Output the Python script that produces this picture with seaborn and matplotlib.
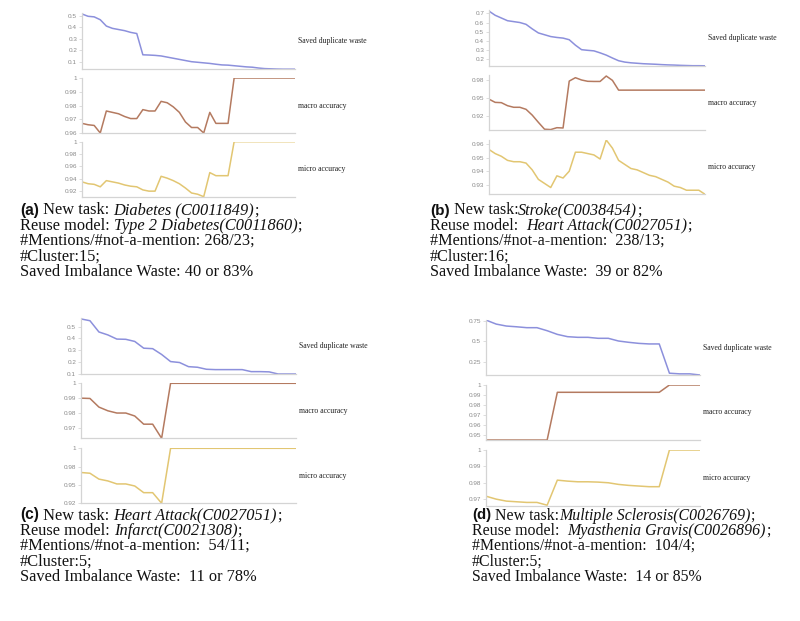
"""Cluster reuse curves: saved duplicate waste vs. macro / micro accuracy"""

import numpy as np
import pandas as pd
import matplotlib
matplotlib.use('Agg')
import matplotlib.pyplot as plt
import seaborn as sns

sns.set_style('white')
plt.rcParams['font.family'] = ['Liberation Serif', 'DejaVu Serif']

# ---- values ---------------------------------------------------------------
# (a) Diabetes
waste_a = [0.515, 0.495, 0.49, 0.465, 0.41, 0.39, 0.38, 0.37, 0.355, 0.345,
           0.16, 0.158, 0.155, 0.15, 0.14, 0.13, 0.12, 0.11, 0.10, 0.095,
           0.09, 0.085, 0.078, 0.072, 0.07, 0.065, 0.06, 0.055, 0.052, 0.045,
           0.04, 0.038, 0.036, 0.035, 0.035, 0.035]
macro_a = [0.967, 0.966, 0.9655, 0.960, 0.976, 0.975, 0.974, 0.972, 0.9705, 0.9705,
           0.977, 0.976, 0.976, 0.983, 0.982, 0.979, 0.975, 0.968, 0.964, 0.964,
           0.960, 0.975, 0.967, 0.967, 0.967, 1.0, 1.0, 1.0, 1.0, 1.0,
           1.0, 1.0, 1.0, 1.0, 1.0, 1.0]
micro_a = [0.935, 0.932, 0.931, 0.927, 0.937, 0.935, 0.933, 0.930, 0.928, 0.927,
           0.922, 0.920, 0.920, 0.944, 0.941, 0.937, 0.932, 0.925, 0.917, 0.915,
           0.911, 0.950, 0.945, 0.945, 0.945, 1.0, 1.0, 1.0, 1.0, 1.0,
           1.0, 1.0, 1.0, 1.0, 1.0, 1.0]

# (b) Stroke
waste_b = [0.726, 0.68, 0.65, 0.62, 0.61, 0.60, 0.58, 0.53, 0.485, 0.465,
           0.445, 0.435, 0.428, 0.41, 0.35, 0.30, 0.293, 0.287, 0.265, 0.24,
           0.208, 0.178, 0.163, 0.155, 0.15, 0.145, 0.142, 0.139, 0.135, 0.132,
           0.13, 0.127, 0.125, 0.123, 0.123, 0.122]
macro_b = [0.948, 0.9436, 0.9432, 0.939, 0.9368, 0.9368, 0.934, 0.926, 0.916, 0.9065,
           0.906, 0.9086, 0.9082, 0.973, 0.9777, 0.9745, 0.9727, 0.9725, 0.9725, 0.980,
           0.974, 0.9605, 0.9605, 0.9605, 0.9605, 0.9605, 0.9605, 0.9605, 0.9605, 0.9605,
           0.9605, 0.9605, 0.9605, 0.9605, 0.9605, 0.9605]
micro_b = [0.956, 0.953, 0.951, 0.948, 0.947, 0.947, 0.946, 0.941, 0.934, 0.931,
           0.928, 0.9366, 0.935, 0.940, 0.954, 0.954, 0.953, 0.952, 0.949, 0.963,
           0.957, 0.948, 0.945, 0.942, 0.941, 0.939, 0.937, 0.936, 0.934, 0.932,
           0.929, 0.928, 0.926, 0.926, 0.926, 0.923]

# (c) Heart Attack
waste_c = [0.565, 0.55, 0.455, 0.43, 0.395, 0.393, 0.375, 0.318, 0.314, 0.265,
           0.205, 0.197, 0.162, 0.157, 0.14, 0.137, 0.137, 0.137, 0.137, 0.12,
           0.12, 0.118, 0.10, 0.10, 0.10]
macro_c = [0.990, 0.9898, 0.984, 0.9815, 0.980, 0.980, 0.978, 0.9725, 0.9725, 0.963,
           1.0, 1.0, 1.0, 1.0, 1.0, 1.0, 1.0, 1.0, 1.0, 1.0,
           1.0, 1.0, 1.0, 1.0, 1.0]
micro_c = [0.967, 0.966, 0.958, 0.9555, 0.9514, 0.9514, 0.9486, 0.9395, 0.9395, 0.925,
           1.0, 1.0, 1.0, 1.0, 1.0, 1.0, 1.0, 1.0, 1.0, 1.0,
           1.0, 1.0, 1.0, 1.0, 1.0]

# (d) Multiple Sclerosis
waste_d = [0.762, 0.713, 0.689, 0.68, 0.669, 0.669, 0.632, 0.587, 0.559, 0.551,
           0.551, 0.539, 0.539, 0.506, 0.49, 0.477, 0.47, 0.47, 0.112, 0.104,
           0.104, 0.09]
macro_d = [0.945, 0.945, 0.945, 0.945, 0.945, 0.945, 0.945, 0.9927, 0.9927, 0.9927,
           0.9927, 0.9927, 0.9927, 0.9927, 0.9927, 0.9927, 0.9927, 0.9927, 1.0, 1.0,
           1.0, 1.0]
micro_d = [0.9718, 0.970, 0.9688, 0.9684, 0.968, 0.968, 0.9663, 0.9816, 0.981, 0.9806,
           0.9806, 0.9804, 0.980, 0.979, 0.9784, 0.978, 0.9776, 0.9776, 1.0, 1.0,
           1.0, 1.0]

series_names = ['Saved duplicate waste', 'macro accuracy', 'micro accuracy']

# y ticks as printed on each small axis
ticks_a = [[0.1, 0.2, 0.3, 0.4, 0.5], [0.96, 0.97, 0.98, 0.99, 1.0], [0.92, 0.94, 0.96, 0.98, 1.0]]
labels_a = [['0.1', '0.2', '0.3', '0.4', '0.5'], ['0.96', '0.97', '0.98', '0.99', '1'],
            ['0.92', '0.94', '0.96', '0.98', '1']]
ticks_b = [[0.2, 0.3, 0.4, 0.5, 0.6, 0.7], [0.925, 0.95, 0.975], [0.93, 0.94, 0.95, 0.96]]
labels_b = [['0.2', '0.3', '0.4', '0.5', '0.6', '0.7'], ['0.92', '0.95', '0.98'],
            ['0.93', '0.94', '0.95', '0.96']]
ticks_c = [[0.1, 0.2, 0.3, 0.4, 0.5], [0.97, 0.98, 0.99, 1.0], [0.925, 0.95, 0.975, 1.0]]
labels_c = [['0.1', '0.2', '0.3', '0.4', '0.5'], ['0.97', '0.98', '0.99', '1'],
            ['0.92', '0.95', '0.98', '1']]
ticks_d = [[0.25, 0.5, 0.75], [0.95, 0.96, 0.97, 0.98, 0.99, 1.0], [0.97, 0.98, 0.99, 1.0]]
labels_d = [['0.25', '0.5', '0.75'], ['0.95', '0.96', '0.97', '0.98', '0.99', '1'],
            ['0.97', '0.98', '0.99', '1']]

# caption pieces: (text, style) with b = bold sans, r = roman, i = italic
captions = {
    'a': [[('(a)', 'b'), (' New task: ', 'r'), ('Diabetes (C0011849)', 'i'), (';', 'r')],
          [('Reuse model: ', 'r'), ('Type 2 Diabetes(C0011860)', 'i'), (';', 'r')],
          [('#Mentions/#not-a-mention: 268/23;', 'r')],
          [('#Cluster:15;', 'r')],
          [('Saved Imbalance Waste: 40 or 83%', 'r')]],
    'b': [[('(b)', 'b'), (' New task:', 'r'), ('Stroke(C0038454)', 'i'), (';', 'r')],
          [('Reuse model:  ', 'r'), ('Heart Attack(C0027051)', 'i'), (';', 'r')],
          [('#Mentions/#not-a-mention:  238/13;', 'r')],
          [('#Cluster:16;', 'r')],
          [('Saved Imbalance Waste:  39 or 82%', 'r')]],
    'c': [[('(c)', 'b'), (' New task: ', 'r'), ('Heart Attack(C0027051)', 'i'), (';', 'r')],
          [('Reuse model: ', 'r'), ('Infarct(C0021308)', 'i'), (';', 'r')],
          [('#Mentions/#not-a-mention:  54/11;', 'r')],
          [('#Cluster:5;', 'r')],
          [('Saved Imbalance Waste:  11 or 78%', 'r')]],
    'd': [[('(d)', 'b'), (' New task:', 'r'), ('Multiple Sclerosis(C0026769)', 'i'), (';', 'r')],
          [('Reuse model:  ', 'r'), ('Myasthenia Gravis(C0026896)', 'i'), (';', 'r')],
          [('#Mentions/#not-a-mention:  104/4;', 'r')],
          [('#Cluster:5;', 'r')],
          [('Saved Imbalance Waste:  14 or 85%', 'r')]],
}

colors = ['#8c90dc', '#b47a60', '#e2c672']

W, H = 800, 621
fig = plt.figure(figsize=(W / 100, H / 100), dpi=100)
renderer = fig.canvas.get_renderer()


def cap_styles(size):
    return {
        'b': dict(family=['Liberation Sans', 'DejaVu Sans'], weight='bold', fontsize=size * 0.95),
        'r': dict(family=['Liberation Serif', 'DejaVu Serif'], fontsize=size),
        'i': dict(family=['Liberation Serif', 'DejaVu Serif'], style='italic', fontsize=size),
    }


def px_axes(left, top, right, bottom):
    return fig.add_axes([left / W, 1 - bottom / H, (right - left) / W, (bottom - top) / H])


def text_width(s, **kw):
    # pad with x on both sides so leading/trailing blanks are counted
    t = fig.text(0, 0, 'x' + s + 'x', **kw)
    w1 = t.get_window_extent(renderer).width
    t.remove()
    t = fig.text(0, 0, 'xx', **kw)
    w2 = t.get_window_extent(renderer).width
    t.remove()
    return w1 - w2


def draw_panel(series, boxes, ylims, ticks, labels):
    for name, vals, box, ylim, tk, lb, c in zip(series_names, series, boxes, ylims,
                                                ticks, labels, colors):
        ax = px_axes(*box)
        df = pd.DataFrame({'step': np.arange(len(vals)), 'value': vals})
        sns.lineplot(data=df, x='step', y='value', ax=ax, color=c, lw=1.1)
        ax.set_xlim(0, len(vals) - 1)
        ax.set_ylim(*ylim)
        ax.set_xticks([])
        ax.set_yticks(tk)
        ax.set_yticklabels(lb, family='Liberation Sans', fontsize=4.6, color='#8a8a8a')
        ax.tick_params(axis='y', length=2, width=0.5, color='#d0d0d0', pad=1.5, left=True)
        ax.set_xlabel('')
        ax.set_ylabel('')
        sns.despine(ax=ax)
        for side in ('left', 'bottom'):
            ax.spines[side].set_color('#d4d4d4')
            ax.spines[side].set_linewidth(0.9)
        ax.text(1.015, 0.5, name, transform=ax.transAxes, ha='left', va='center',
                fontsize=5.6, color='#222222')


draw_panel([waste_a, macro_a, micro_a],
           [(82, 13.3, 295, 69), (82, 78, 295, 133), (82, 141.7, 295, 196.7)],
           [(0.0365, 0.521), (0.96, 1.0), (0.911, 1.0)], ticks_a, labels_a)
draw_panel([waste_b, macro_b, micro_b],
           [(489, 10.3, 705, 65.8), (489, 75.3, 705, 130.3), (489, 140, 705, 194.3)],
           [(0.122, 0.735), (0.905, 0.981), (0.923, 0.963)], ticks_b, labels_b)
draw_panel([waste_c, macro_c, micro_c],
           [(81, 318, 296, 374), (81, 383.3, 296, 438.3), (81, 448.3, 296, 503.3)],
           [(0.1, 0.573), (0.963, 1.0), (0.925, 1.0)], ticks_c, labels_c)
draw_panel([waste_d, macro_d, micro_d],
           [(486, 320, 700, 375), (486, 385, 700, 440), (486, 450, 700, 505.7)],
           [(0.09, 0.763), (0.945, 1.0), (0.966, 1.0)], ticks_d, labels_d)

# captions under each panel, piece by piece on a common baseline
for key, (x0, y0), size in zip('abcd', [(20, 214.5), (430, 214.5), (20, 519.5), (472, 519.5)],
                               [11.8, 11.6, 11.8, 11.4]):
    styles = cap_styles(size)
    for i, line in enumerate(captions[key]):
        x = x0
        y = y0 + 15.3 * i
        for piece, st in line:
            fig.text(x / W, 1 - y / H, piece, ha='left', va='baseline',
                     color='#111111', **styles[st])
            x += text_width(piece, **styles[st])

fig.savefig('out.png', dpi=100)
